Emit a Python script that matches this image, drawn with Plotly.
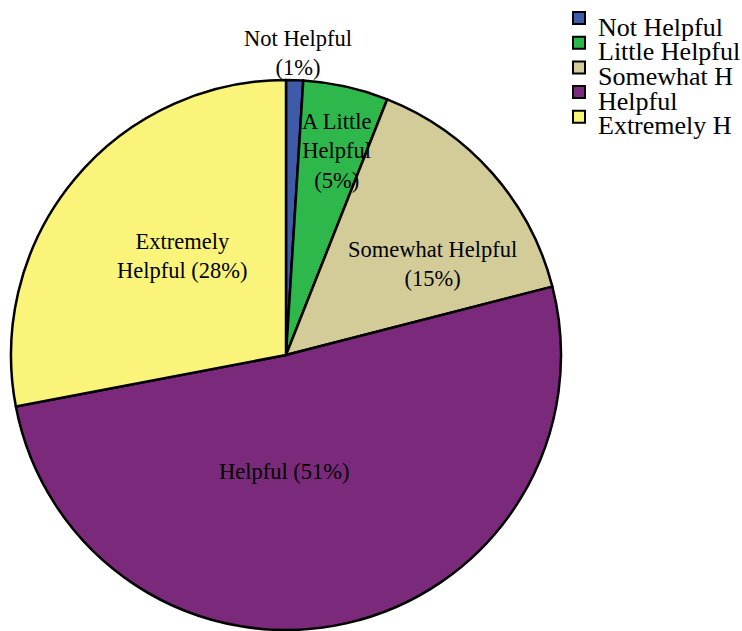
import plotly.graph_objects as go

# Survey responses: how helpful respondents found the resource
categories = ["Not Helpful", "Little Helpful", "Somewhat H", "Helpful", "Extremely H"]
slice_names = ["Not Helpful", "A Little<br>Helpful", "Somewhat Helpful", "Helpful", "Extremely<br>Helpful"]
percents = [1, 5, 15, 51, 28]
colors = ["#3D5BA9", "#2EB84B", "#D3CC99", "#7B297A", "#FAF57A"]

W, H = 742, 631
FONT = "Liberation Serif, Times New Roman, serif"


def px(x):
    return x / W


def py(y):
    return 1 - y / H


fig = go.Figure(
    go.Pie(
        labels=categories,
        values=percents,
        sort=False,
        direction="clockwise",
        rotation=0,
        marker=dict(colors=colors, line=dict(color="black", width=2.5)),
        textinfo="none",
        hoverinfo="label+percent",
        showlegend=False,
        domain=dict(x=[px(11), px(561)], y=[py(630), py(80)]),
    )
)

# Slice labels: name and percentage, placed inside / above each wedge
label_pos = [(298, 53), (336, 151), (432, 264), (284, 472), (182, 256)]
label_text = [
    f"{slice_names[0]}<br>({percents[0]}%)",
    f"{slice_names[1]}<br>({percents[1]}%)",
    f"{slice_names[2]}<br>({percents[2]}%)",
    f"{slice_names[3]} ({percents[3]}%)",
    f"{slice_names[4]} ({percents[4]}%)",
]
annotations = []
for (x, y), t in zip(label_pos, label_text):
    annotations.append(dict(
        x=px(x), y=py(y), xref="paper", yref="paper", text=t, showarrow=False,
        xanchor="center", yanchor="middle",
        font=dict(family=FONT, size=22.5, color="black"),
    ))

# Legend: coloured squares with category names
shapes = []
for i, (name, col) in enumerate(zip(categories, colors)):
    top = 12 + 24.7 * i
    shapes.append(dict(
        type="rect", xref="paper", yref="paper",
        x0=px(573), x1=px(585), y0=py(top + 12), y1=py(top),
        fillcolor=col, line=dict(color="black", width=2),
    ))
    annotations.append(dict(
        x=px(596), y=py(top + 15), xref="paper", yref="paper", text=name,
        showarrow=False, xanchor="left", yanchor="middle",
        font=dict(family=FONT, size=26, color="black"),
    ))

fig.update_layout(
    width=W, height=H,
    margin=dict(l=0, r=0, t=0, b=0),
    paper_bgcolor="white", plot_bgcolor="white",
    shapes=shapes, annotations=annotations,
)

fig.write_html("out.html")
